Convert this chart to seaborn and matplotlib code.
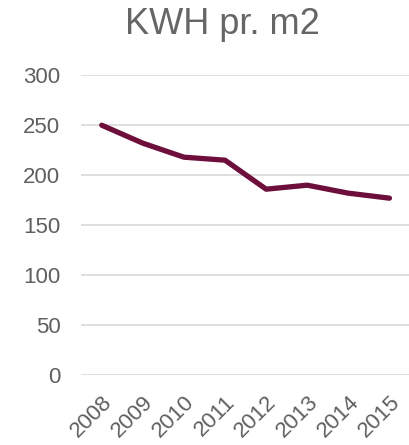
import matplotlib
matplotlib.use("Agg")
import matplotlib.pyplot as plt
import seaborn as sns
import pandas as pd

# data
years = ["2008", "2009", "2010", "2011", "2012", "2013", "2014", "2015"]
kwh = [250, 232, 218, 215, 186, 190, 182, 177]

df = pd.DataFrame({"year": years, "kwh": kwh})

sns.set_style("white")
plt.rcParams["font.family"] = ["Liberation Sans", "DejaVu Sans"]

fig = plt.figure(figsize=(4.1, 4.45), dpi=100)
ax = fig.add_axes([0.198, 0.157, 0.802, 0.674])

sns.lineplot(data=df, x="year", y="kwh", ax=ax, color="#6d0e3b", linewidth=3.8,
             solid_capstyle="round", sort=False)

ax.set_ylim(0, 300)
ax.set_xlim(-0.5, len(years) - 0.5)
ax.set_yticks(range(0, 301, 50))
ax.yaxis.grid(True, color="#d9d9d9", linewidth=1.2)
ax.set_axisbelow(True)
for s in ax.spines.values():
    s.set_visible(False)

ax.set_xlabel("")
ax.set_ylabel("")
ax.tick_params(axis="both", length=0, labelsize=16, colors="#5f5f5f")
ax.tick_params(axis="y", pad=15)
ax.tick_params(axis="x", pad=12)
plt.setp(ax.get_xticklabels(), rotation=45, ha="right", rotation_mode="anchor")

fig.text(0.542, 0.985, "KWH pr. m2", fontsize=26, color="#666666", ha="center", va="top")

fig.savefig("out.png", dpi=100)
